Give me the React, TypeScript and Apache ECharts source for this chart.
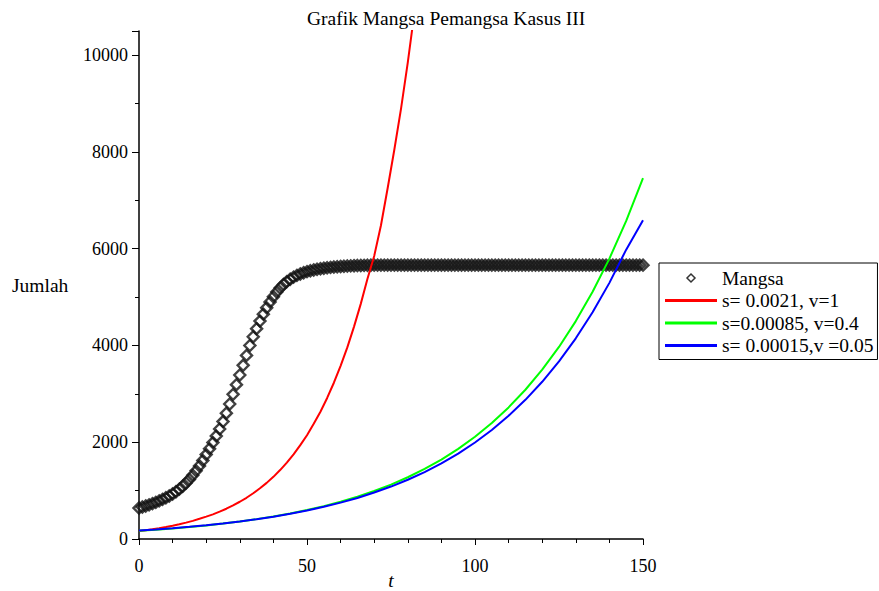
import React, { useEffect, useRef } from "react";
import * as echarts from "echarts";

const FONT = '"Liberation Serif", "Times New Roman", serif';

const titleText = "Grafik Mangsa Pemangsa Kasus III";
const yName = "Jumlah";
const xName = "t";

const seriesNames = ["Mangsa", "s= 0.0021, v=1", "s=0.00085, v=0.4", "s= 0.00015,v =0.05"];

// Mangsa (prey), one value per unit of t from 0 to 150
const mangsa = [
  640, 661, 683, 706, 731, 758, 787, 818, 852, 889,
  930, 977, 1030, 1090, 1157, 1232, 1316, 1409, 1511, 1623,
  1745, 1865, 1993, 2129, 2274, 2428, 2600, 2790, 2990, 3190,
  3390, 3590, 3795, 4000, 4180, 4348, 4504, 4648, 4780, 4900,
  5008, 5104, 5188, 5260, 5320, 5370, 5412, 5448, 5478, 5504,
  5526, 5545, 5561, 5575, 5587, 5597, 5606, 5614, 5621, 5627,
  5633, 5638, 5642, 5646, 5649, 5652, 5654, 5656, 5658, 5659,
  5660, 5660, 5660, 5660, 5660, 5660, 5660, 5660, 5660, 5660,
  5660, 5660, 5660, 5660, 5660, 5660, 5660, 5660, 5660, 5660,
  5660, 5660, 5660, 5660, 5660, 5660, 5660, 5660, 5660, 5660,
  5660, 5660, 5660, 5660, 5660, 5660, 5660, 5660, 5660, 5660,
  5660, 5660, 5660, 5660, 5660, 5660, 5660, 5660, 5660, 5660,
  5660, 5660, 5660, 5660, 5660, 5660, 5660, 5660, 5660, 5660,
  5660, 5660, 5660, 5660, 5660, 5660, 5660, 5660, 5660, 5660,
  5660, 5660, 5660, 5660, 5660, 5660, 5660, 5660, 5660, 5660,
  5660,
];

// Red: s = 0.0021, v = 1
const redT = [0, 2, 4, 6, 8, 10, 12, 14, 16, 18, 20, 22, 24, 26, 28, 30, 32, 34, 36, 38, 40,
  42, 44, 46, 48, 50, 52, 54, 56, 58, 60, 62, 64, 66, 68, 70, 72, 74, 76, 78, 80, 82];
const redV = [165, 183, 202, 224, 248, 275, 305, 338, 375, 418, 462, 510, 565, 626, 695, 770,
  852, 945, 1048, 1160, 1285, 1425, 1580, 1750, 1940, 2145, 2380, 2630, 2915, 3230, 3580,
  3960, 4390, 4860, 5380, 5850, 6480, 7250, 8050, 8900, 9850, 10900];

// Green and blue share the same t grid
const gbT = [0, 5, 10, 15, 20, 25, 30, 35, 40, 45, 50, 55, 60, 65, 70, 75, 80, 85, 90, 95,
  100, 105, 110, 115, 120, 125, 130, 135, 140, 145, 150];
const greenV = [170, 193, 219, 248, 281, 319, 362, 411, 466, 528, 599, 680, 771, 874, 992,
  1125, 1276, 1448, 1642, 1863, 2113, 2397, 2720, 3085, 3500, 3970, 4504, 5109, 5796, 6575, 7460];
const blueV = [175, 197, 222, 251, 284, 320, 362, 409, 462, 521, 589, 665, 752, 849, 960,
  1084, 1225, 1384, 1563, 1766, 1995, 2254, 2547, 2877, 3250, 3672, 4148, 4686, 5294, 5981, 6590];

const lineColors = ["#ff0000", "#00ff00", "#0000ff"];

const xMin = 0, xMax = 150, xStep = 50;
const yMin = 0, yMax = 10500, yStep = 2000;

const LINE_ICON = "path://M0 0H52V3H0Z";
const DIAMOND_ICON = "path://M4 0L8 4L4 8L0 4Z";

export default function App() {
  const ref = useRef<HTMLDivElement>(null);
  useEffect(() => {
    if (!ref.current) return;
    const chart = echarts.init(ref.current, null, { renderer: "svg" });
    const zip = (xs: number[], ys: number[]) => xs.map((x, i) => [x, ys[i]]);
    const mangsaData = mangsa.map((v, i) => [i, v]);
    chart.setOption({
      animation: false,
      backgroundColor: "#fff",
      textStyle: { fontFamily: FONT },
      title: {
        text: titleText,
        left: 307,
        top: 8,
        padding: 0,
        textStyle: { fontFamily: FONT, fontSize: 19.5, fontWeight: "normal", color: "#000" },
      },
      grid: { left: 139, right: 236, top: 31, bottom: 52, outerBoundsMode: "none", containLabel: false },
      legend: {
        orient: "vertical",
        left: 659,
        top: 263,
        padding: [5, 4, 4, 6],
        borderColor: "#000",
        borderWidth: 1,
        itemWidth: 52,
        itemHeight: 8,
        itemGap: 2.5,
        symbolKeepAspect: true,
        textStyle: { fontFamily: FONT, fontSize: 19.5, color: "#000" },
        data: [
          { name: seriesNames[0], icon: DIAMOND_ICON, itemStyle: { color: "#fff", borderColor: "#000", borderWidth: 1.5 } },
          { name: seriesNames[1], icon: LINE_ICON },
          { name: seriesNames[2], icon: LINE_ICON },
          { name: seriesNames[3], icon: LINE_ICON },
        ],
      },
      graphic: [
        {
          type: "text",
          left: 12,
          top: 275,
          style: { text: yName, fontFamily: FONT, fontSize: 19.5, fill: "#000" },
        },
      ],
      xAxis: {
        type: "value",
        min: xMin,
        max: xMax,
        interval: xStep,
        name: xName,
        nameLocation: "middle",
        nameGap: 31,
        nameMoveOverlap: false,
        nameTextStyle: { fontFamily: FONT, fontSize: 19.5, fontStyle: "italic", color: "#000" },
        axisLine: { lineStyle: { color: "#000", width: 1.5 } },
        axisTick: { show: true, length: 6, lineStyle: { color: "#000", width: 1 } },
        minorTick: { show: true, splitNumber: 5, length: 4, lineStyle: { color: "#000", width: 1 } },
        splitLine: { show: false },
        axisLabel: { fontFamily: FONT, fontSize: 18, color: "#000", margin: 18 },
      },
      yAxis: {
        type: "value",
        min: yMin,
        max: yMax,
        interval: yStep,
        axisLine: { show: true, lineStyle: { color: "#000", width: 1.5 } },
        axisTick: { show: true, length: 7, lineStyle: { color: "#000", width: 1 } },
        minorTick: { show: true, splitNumber: 2, length: 4, lineStyle: { color: "#000", width: 1 } },
        splitLine: { show: false },
        axisLabel: {
          fontFamily: FONT,
          fontSize: 18,
          color: "#000",
          margin: 11,
          formatter: (v: number) => (v % yStep === 0 ? String(v) : ""),
        },
      },
      series: [
        {
          name: seriesNames[0],
          type: "scatter",
          symbol: "diamond",
          symbolSize: 11,
          clip: false,
          itemStyle: { color: "rgba(255,255,255,0)", borderColor: "#111", borderWidth: 2.4 },
          data: mangsaData,
          z: 1,
        },
        {
          name: seriesNames[1],
          type: "line",
          symbol: "none",
          lineStyle: { color: lineColors[0], width: 2 },
          itemStyle: { color: lineColors[0] },
          data: zip(redT, redV),
          z: 3,
        },
        {
          name: seriesNames[2],
          type: "line",
          symbol: "none",
          lineStyle: { color: lineColors[1], width: 2 },
          itemStyle: { color: lineColors[1] },
          data: zip(gbT, greenV),
          z: 3,
        },
        {
          name: seriesNames[3],
          type: "line",
          symbol: "none",
          lineStyle: { color: lineColors[2], width: 2 },
          itemStyle: { color: lineColors[2] },
          data: zip(gbT, blueV),
          z: 4,
        },
      ],
    });
    return () => chart.dispose();
  }, []);
  return (
    <div
      ref={ref}
      style={{ position: "fixed", left: 0, top: 0, width: 879, height: 591, background: "#fff" }}
    />
  );
}
